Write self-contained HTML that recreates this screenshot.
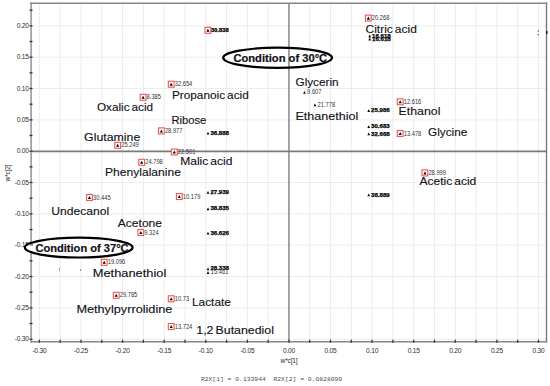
<!DOCTYPE html>
<html><head><meta charset="utf-8"><style>
html,body{margin:0;padding:0;background:#fff;width:550px;height:386px;overflow:hidden}
svg{display:block}
text{font-family:"Liberation Sans",sans-serif}
.g{stroke:#ececec;stroke-width:1}
.z{stroke-width:1.8}
.f{fill:none;stroke-width:1.6}
.t{stroke:#333;stroke-width:1.3}
.ax{font-size:6.6px;fill:#2a2a2a;letter-spacing:-0.2px}
.mono{font-family:"Liberation Mono",monospace;font-size:6.1px;fill:#505050}
.bx{fill:#fff;stroke:#f25555;stroke-width:1.1}
.tr{fill:#000}
.n{font-size:6.5px;fill:#333}
.nb{font-size:5.6px;fill:#000;stroke:#000;stroke-width:0.25px;font-weight:bold}
.lb{font-size:10.9px;word-spacing:-1.2px;fill:#111118;stroke:#111118;stroke-width:0.12px}
.lbb{font-size:11.2px;fill:#101018;stroke:#101018;stroke-width:0.2px;font-weight:bold}
.el{stroke:#000;stroke-width:2.2}
</style></head><body>
<svg width="550" height="386" viewBox="0 0 550 386">
<line x1="39.4" y1="3.2" x2="39.4" y2="341.7" class="g"/>
<line x1="60.2" y1="3.2" x2="60.2" y2="341.7" class="g"/>
<line x1="81.0" y1="3.2" x2="81.0" y2="341.7" class="g"/>
<line x1="101.8" y1="3.2" x2="101.8" y2="341.7" class="g"/>
<line x1="122.6" y1="3.2" x2="122.6" y2="341.7" class="g"/>
<line x1="143.4" y1="3.2" x2="143.4" y2="341.7" class="g"/>
<line x1="164.2" y1="3.2" x2="164.2" y2="341.7" class="g"/>
<line x1="185.0" y1="3.2" x2="185.0" y2="341.7" class="g"/>
<line x1="205.8" y1="3.2" x2="205.8" y2="341.7" class="g"/>
<line x1="226.6" y1="3.2" x2="226.6" y2="341.7" class="g"/>
<line x1="247.4" y1="3.2" x2="247.4" y2="341.7" class="g"/>
<line x1="268.2" y1="3.2" x2="268.2" y2="341.7" class="g"/>
<line x1="309.7" y1="3.2" x2="309.7" y2="341.7" class="g"/>
<line x1="330.5" y1="3.2" x2="330.5" y2="341.7" class="g"/>
<line x1="351.3" y1="3.2" x2="351.3" y2="341.7" class="g"/>
<line x1="372.1" y1="3.2" x2="372.1" y2="341.7" class="g"/>
<line x1="392.9" y1="3.2" x2="392.9" y2="341.7" class="g"/>
<line x1="413.7" y1="3.2" x2="413.7" y2="341.7" class="g"/>
<line x1="434.5" y1="3.2" x2="434.5" y2="341.7" class="g"/>
<line x1="455.3" y1="3.2" x2="455.3" y2="341.7" class="g"/>
<line x1="476.1" y1="3.2" x2="476.1" y2="341.7" class="g"/>
<line x1="496.9" y1="3.2" x2="496.9" y2="341.7" class="g"/>
<line x1="517.7" y1="3.2" x2="517.7" y2="341.7" class="g"/>
<line x1="538.5" y1="3.2" x2="538.5" y2="341.7" class="g"/>
<line x1="31.1" y1="25.9" x2="546.5" y2="25.9" class="g"/>
<line x1="31.1" y1="57.2" x2="546.5" y2="57.2" class="g"/>
<line x1="31.1" y1="88.5" x2="546.5" y2="88.5" class="g"/>
<line x1="31.1" y1="119.9" x2="546.5" y2="119.9" class="g"/>
<line x1="31.1" y1="182.5" x2="546.5" y2="182.5" class="g"/>
<line x1="31.1" y1="213.9" x2="546.5" y2="213.9" class="g"/>
<line x1="31.1" y1="245.2" x2="546.5" y2="245.2" class="g"/>
<line x1="31.1" y1="276.5" x2="546.5" y2="276.5" class="g"/>
<line x1="31.1" y1="307.9" x2="546.5" y2="307.9" class="g"/>
<line x1="31.1" y1="339.2" x2="546.5" y2="339.2" class="g"/>
<ellipse cx="277.6" cy="57.8" rx="54.4" ry="10.1" fill="#fff"/>
<line x1="288.95" y1="3.2" x2="288.95" y2="341.7" class="z" stroke="#9a9a9a"/>
<line x1="31.1" y1="151.30" x2="546.5" y2="151.30" class="z" stroke="#7a7a7a"/>
<path d="M31.1 2.4000000000000004V342.5" class="f" stroke="#989898"/>
<path d="M546.5 2.4000000000000004V342.5" class="f" stroke="#7a7a7a" style="stroke-width:1.4px"/>
<path d="M30.3 3.2H547.3M30.3 341.7H547.3" class="f" stroke="#868686"/>
<line x1="29.5" y1="10.2" x2="32.5" y2="10.2" class="t"/>
<line x1="29.5" y1="25.9" x2="32.5" y2="25.9" class="t"/>
<line x1="29.5" y1="41.5" x2="32.5" y2="41.5" class="t"/>
<line x1="29.5" y1="57.2" x2="32.5" y2="57.2" class="t"/>
<line x1="29.5" y1="72.9" x2="32.5" y2="72.9" class="t"/>
<line x1="29.5" y1="88.5" x2="32.5" y2="88.5" class="t"/>
<line x1="29.5" y1="104.2" x2="32.5" y2="104.2" class="t"/>
<line x1="29.5" y1="119.9" x2="32.5" y2="119.9" class="t"/>
<line x1="29.5" y1="135.5" x2="32.5" y2="135.5" class="t"/>
<line x1="29.5" y1="151.2" x2="32.5" y2="151.2" class="t"/>
<line x1="29.5" y1="166.9" x2="32.5" y2="166.9" class="t"/>
<line x1="29.5" y1="182.5" x2="32.5" y2="182.5" class="t"/>
<line x1="29.5" y1="198.2" x2="32.5" y2="198.2" class="t"/>
<line x1="29.5" y1="213.9" x2="32.5" y2="213.9" class="t"/>
<line x1="29.5" y1="229.5" x2="32.5" y2="229.5" class="t"/>
<line x1="29.5" y1="245.2" x2="32.5" y2="245.2" class="t"/>
<line x1="29.5" y1="260.9" x2="32.5" y2="260.9" class="t"/>
<line x1="29.5" y1="276.5" x2="32.5" y2="276.5" class="t"/>
<line x1="29.5" y1="292.2" x2="32.5" y2="292.2" class="t"/>
<line x1="29.5" y1="307.9" x2="32.5" y2="307.9" class="t"/>
<line x1="29.5" y1="323.5" x2="32.5" y2="323.5" class="t"/>
<line x1="29.5" y1="339.2" x2="32.5" y2="339.2" class="t"/>
<line x1="39.4" y1="339.7" x2="39.4" y2="342.7" class="t"/>
<line x1="60.2" y1="339.7" x2="60.2" y2="342.7" class="t"/>
<line x1="81.0" y1="339.7" x2="81.0" y2="342.7" class="t"/>
<line x1="101.8" y1="339.7" x2="101.8" y2="342.7" class="t"/>
<line x1="122.6" y1="339.7" x2="122.6" y2="342.7" class="t"/>
<line x1="143.4" y1="339.7" x2="143.4" y2="342.7" class="t"/>
<line x1="164.2" y1="339.7" x2="164.2" y2="342.7" class="t"/>
<line x1="185.0" y1="339.7" x2="185.0" y2="342.7" class="t"/>
<line x1="205.8" y1="339.7" x2="205.8" y2="342.7" class="t"/>
<line x1="226.6" y1="339.7" x2="226.6" y2="342.7" class="t"/>
<line x1="247.4" y1="339.7" x2="247.4" y2="342.7" class="t"/>
<line x1="268.2" y1="339.7" x2="268.2" y2="342.7" class="t"/>
<line x1="289.0" y1="339.7" x2="289.0" y2="342.7" class="t"/>
<line x1="309.7" y1="339.7" x2="309.7" y2="342.7" class="t"/>
<line x1="330.5" y1="339.7" x2="330.5" y2="342.7" class="t"/>
<line x1="351.3" y1="339.7" x2="351.3" y2="342.7" class="t"/>
<line x1="372.1" y1="339.7" x2="372.1" y2="342.7" class="t"/>
<line x1="392.9" y1="339.7" x2="392.9" y2="342.7" class="t"/>
<line x1="413.7" y1="339.7" x2="413.7" y2="342.7" class="t"/>
<line x1="434.5" y1="339.7" x2="434.5" y2="342.7" class="t"/>
<line x1="455.3" y1="339.7" x2="455.3" y2="342.7" class="t"/>
<line x1="476.1" y1="339.7" x2="476.1" y2="342.7" class="t"/>
<line x1="496.9" y1="339.7" x2="496.9" y2="342.7" class="t"/>
<line x1="517.7" y1="339.7" x2="517.7" y2="342.7" class="t"/>
<line x1="538.5" y1="339.7" x2="538.5" y2="342.7" class="t"/>
<text x="28.8" y="28.1" class="ax" text-anchor="end">0.20</text>
<text x="28.8" y="59.4" class="ax" text-anchor="end">0.15</text>
<text x="28.8" y="90.7" class="ax" text-anchor="end">0.10</text>
<text x="28.8" y="122.1" class="ax" text-anchor="end">0.05</text>
<text x="28.8" y="153.4" class="ax" text-anchor="end">0.00</text>
<text x="28.8" y="184.7" class="ax" text-anchor="end">-0.05</text>
<text x="28.8" y="216.1" class="ax" text-anchor="end">-0.10</text>
<text x="28.8" y="247.4" class="ax" text-anchor="end">-0.15</text>
<text x="28.8" y="278.7" class="ax" text-anchor="end">-0.20</text>
<text x="28.8" y="310.1" class="ax" text-anchor="end">-0.25</text>
<text x="28.8" y="341.4" class="ax" text-anchor="end">-0.30</text>
<text x="39.4" y="352.8" class="ax" text-anchor="middle">-0.30</text>
<text x="81.0" y="352.8" class="ax" text-anchor="middle">-0.25</text>
<text x="122.6" y="352.8" class="ax" text-anchor="middle">-0.20</text>
<text x="164.2" y="352.8" class="ax" text-anchor="middle">-0.15</text>
<text x="205.8" y="352.8" class="ax" text-anchor="middle">-0.10</text>
<text x="247.4" y="352.8" class="ax" text-anchor="middle">-0.05</text>
<text x="289.0" y="352.8" class="ax" text-anchor="middle">0.00</text>
<text x="330.5" y="352.8" class="ax" text-anchor="middle">0.05</text>
<text x="372.1" y="352.8" class="ax" text-anchor="middle">0.10</text>
<text x="413.7" y="352.8" class="ax" text-anchor="middle">0.15</text>
<text x="455.3" y="352.8" class="ax" text-anchor="middle">0.20</text>
<text x="496.9" y="352.8" class="ax" text-anchor="middle">0.25</text>
<text x="538.5" y="352.8" class="ax" text-anchor="middle">0.30</text>
<text x="289" y="362.5" class="ax" text-anchor="middle">w*c[1]</text>
<text transform="translate(10.3,173) rotate(-90)" class="ax" text-anchor="middle">w*c[2]</text>
<text x="200.9" y="380.5" class="mono" xml:space="preserve" textLength="141.3" lengthAdjust="spacingAndGlyphs">R2X[1] = 0.133944  R2X[2] = 0.0828099</text>
<rect x="205.0" y="27.3" width="5.8" height="6" class="bx"/>
<path d="M206.35 31.85L207.90 28.80L209.45 31.85Z" class="tr"/>
<text x="211.0" y="32.3" class="nb" textLength="17.8" lengthAdjust="spacingAndGlyphs">30.838</text>
<rect x="168.3" y="81.2" width="5.8" height="6" class="bx"/>
<path d="M169.65 85.75L171.20 82.70L172.75 85.75Z" class="tr"/>
<text x="174.7" y="86.3" class="n" textLength="17.6" lengthAdjust="spacingAndGlyphs">32.654</text>
<rect x="140.2" y="94.3" width="5.8" height="6" class="bx"/>
<path d="M141.55 98.85L143.10 95.80L144.65 98.85Z" class="tr"/>
<text x="146.6" y="99.4" class="n" textLength="14.4" lengthAdjust="spacingAndGlyphs">8.385</text>
<rect x="158.5" y="127.9" width="5.8" height="6" class="bx"/>
<path d="M159.85 132.45L161.40 129.40L162.95 132.45Z" class="tr"/>
<text x="164.9" y="133.0" class="n" textLength="17.6" lengthAdjust="spacingAndGlyphs">28.977</text>
<rect x="114.8" y="142.3" width="5.8" height="6" class="bx"/>
<path d="M116.15 146.85L117.70 143.80L119.25 146.85Z" class="tr"/>
<text x="121.2" y="147.4" class="n" textLength="17.6" lengthAdjust="spacingAndGlyphs">25.249</text>
<rect x="171.4" y="149.0" width="5.8" height="6" class="bx"/>
<path d="M172.75 153.55L174.30 150.50L175.85 153.55Z" class="tr"/>
<text x="177.8" y="154.1" class="n" textLength="17.6" lengthAdjust="spacingAndGlyphs">22.501</text>
<rect x="138.8" y="159.3" width="5.8" height="6" class="bx"/>
<path d="M140.15 163.85L141.70 160.80L143.25 163.85Z" class="tr"/>
<text x="145.2" y="164.4" class="n" textLength="17.6" lengthAdjust="spacingAndGlyphs">24.798</text>
<rect x="176.4" y="193.5" width="5.8" height="6" class="bx"/>
<path d="M177.75 198.05L179.30 195.00L180.85 198.05Z" class="tr"/>
<text x="182.8" y="198.6" class="n" textLength="17.6" lengthAdjust="spacingAndGlyphs">10.179</text>
<rect x="86.6" y="194.5" width="5.8" height="6" class="bx"/>
<path d="M87.95 199.05L89.50 196.00L91.05 199.05Z" class="tr"/>
<text x="93.0" y="199.6" class="n" textLength="17.6" lengthAdjust="spacingAndGlyphs">30.445</text>
<rect x="137.9" y="229.5" width="5.8" height="6" class="bx"/>
<path d="M139.25 234.05L140.80 231.00L142.35 234.05Z" class="tr"/>
<text x="144.3" y="234.6" class="n" textLength="14.4" lengthAdjust="spacingAndGlyphs">9.324</text>
<rect x="101.3" y="259.3" width="5.8" height="6" class="bx"/>
<path d="M102.65 263.85L104.20 260.80L105.75 263.85Z" class="tr"/>
<text x="107.7" y="264.4" class="n" textLength="17.6" lengthAdjust="spacingAndGlyphs">19.096</text>
<rect x="113.3" y="292.3" width="5.8" height="6" class="bx"/>
<path d="M114.65 296.85L116.20 293.80L117.75 296.85Z" class="tr"/>
<text x="119.7" y="297.4" class="n" textLength="17.6" lengthAdjust="spacingAndGlyphs">29.785</text>
<rect x="168.3" y="295.8" width="5.8" height="6" class="bx"/>
<path d="M169.65 300.35L171.20 297.30L172.75 300.35Z" class="tr"/>
<text x="174.7" y="300.9" class="n" textLength="14.4" lengthAdjust="spacingAndGlyphs">10.73</text>
<rect x="168.3" y="323.5" width="5.8" height="6" class="bx"/>
<path d="M169.65 328.05L171.20 325.00L172.75 328.05Z" class="tr"/>
<text x="174.7" y="328.6" class="n" textLength="17.6" lengthAdjust="spacingAndGlyphs">13.724</text>
<rect x="365.4" y="15.1" width="5.8" height="6" class="bx"/>
<path d="M366.75 19.65L368.30 16.60L369.85 19.65Z" class="tr"/>
<text x="371.8" y="20.2" class="n" textLength="17.6" lengthAdjust="spacingAndGlyphs">20.268</text>
<rect x="397.3" y="98.8" width="5.8" height="6" class="bx"/>
<path d="M398.65 103.35L400.20 100.30L401.75 103.35Z" class="tr"/>
<text x="403.7" y="103.9" class="n" textLength="17.6" lengthAdjust="spacingAndGlyphs">12.616</text>
<rect x="397.3" y="130.5" width="5.8" height="6" class="bx"/>
<path d="M398.65 135.05L400.20 132.00L401.75 135.05Z" class="tr"/>
<text x="403.7" y="135.6" class="n" textLength="17.6" lengthAdjust="spacingAndGlyphs">13.478</text>
<rect x="422.0" y="169.9" width="5.8" height="6" class="bx"/>
<path d="M423.35 174.45L424.90 171.40L426.45 174.45Z" class="tr"/>
<text x="428.4" y="175.0" class="n" textLength="17.6" lengthAdjust="spacingAndGlyphs">28.999</text>
<path d="M206.65 134.50L208.00 131.70L209.35 134.50Z" class="tr"/>
<text x="210.4" y="134.7" class="nb" textLength="18.6" lengthAdjust="spacingAndGlyphs">36.888</text>
<path d="M206.65 193.80L208.00 191.00L209.35 193.80Z" class="tr"/>
<text x="210.4" y="194.0" class="nb" textLength="18.6" lengthAdjust="spacingAndGlyphs">27.939</text>
<path d="M206.65 210.20L208.00 207.40L209.35 210.20Z" class="tr"/>
<text x="210.4" y="210.4" class="nb" textLength="18.6" lengthAdjust="spacingAndGlyphs">38.835</text>
<path d="M206.65 234.60L208.00 231.80L209.35 234.60Z" class="tr"/>
<text x="210.4" y="234.8" class="nb" textLength="18.6" lengthAdjust="spacingAndGlyphs">36.626</text>
<path d="M206.65 270.20L208.00 267.40L209.35 270.20Z" class="tr"/>
<text x="210.4" y="270.4" class="nb" textLength="18.6" lengthAdjust="spacingAndGlyphs">28.338</text>
<path d="M303.15 93.70L304.50 90.90L305.85 93.70Z" class="tr"/>
<text x="307.1" y="94.0" class="n" textLength="14.4" lengthAdjust="spacingAndGlyphs">9.607</text>
<path d="M313.55 106.30L314.90 103.50L316.25 106.30Z" class="tr"/>
<text x="317.5" y="106.6" class="n" textLength="17.6" lengthAdjust="spacingAndGlyphs">21.778</text>
<path d="M367.35 112.00L368.70 109.20L370.05 112.00Z" class="tr"/>
<text x="371.1" y="112.2" class="nb" textLength="18.6" lengthAdjust="spacingAndGlyphs">25.986</text>
<path d="M367.35 128.00L368.70 125.20L370.05 128.00Z" class="tr"/>
<text x="371.1" y="128.2" class="nb" textLength="18.6" lengthAdjust="spacingAndGlyphs">30.683</text>
<path d="M367.35 135.30L368.70 132.50L370.05 135.30Z" class="tr"/>
<text x="371.1" y="135.5" class="nb" textLength="18.6" lengthAdjust="spacingAndGlyphs">32.668</text>
<path d="M367.35 196.30L368.70 193.50L370.05 196.30Z" class="tr"/>
<text x="371.1" y="196.5" class="nb" textLength="18.6" lengthAdjust="spacingAndGlyphs">38.889</text>
<path d="M368.35 40.40L369.70 37.60L371.05 40.40Z" class="tr"/>
<text x="372.1" y="40.6" class="nb" textLength="18.6" lengthAdjust="spacingAndGlyphs">16.618</text>
<path d="M368.35 37.40L369.70 34.60L371.05 37.40Z" class="tr"/>
<text x="372.1" y="37.6" class="nb" textLength="18.6" lengthAdjust="spacingAndGlyphs">16.618</text>
<text x="210.8" y="273.9" class="n" textLength="17.6" lengthAdjust="spacingAndGlyphs">15.461</text>
<path d="M206.65 273.90L208.00 271.10L209.35 273.90Z" class="tr"/>
<rect x="537.6" y="30.3" width="1.3" height="1.4" fill="#555"/>
<rect x="537.6" y="34" width="1.3" height="1.2" fill="#555"/>
<rect x="546" y="31" width="1.6" height="3" fill="#222"/>
<rect x="59" y="267.6" width="0.9" height="3.6" fill="#999"/>
<rect x="80" y="269" width="0.9" height="2" fill="#888"/>
<text x="365.5" y="32.6" class="lb" textLength="51.3" lengthAdjust="spacingAndGlyphs">Citric acid</text>
<text x="171.9" y="98.8" class="lb" textLength="76.9" lengthAdjust="spacingAndGlyphs">Propanoic acid</text>
<text x="96.9" y="111.3" class="lb" textLength="56.2" lengthAdjust="spacingAndGlyphs">Oxalic acid</text>
<text x="171.4" y="123.6" class="lb" textLength="34.9" lengthAdjust="spacingAndGlyphs">Ribose</text>
<text x="84.1" y="140.5" class="lb" textLength="56.2" lengthAdjust="spacingAndGlyphs">Glutamine</text>
<text x="180.2" y="164.8" class="lb" textLength="52.2" lengthAdjust="spacingAndGlyphs">Malic acid</text>
<text x="105" y="176.3" class="lb" textLength="75.9" lengthAdjust="spacingAndGlyphs">Phenylalanine</text>
<text x="51.3" y="214.5" class="lb" textLength="57.8" lengthAdjust="spacingAndGlyphs">Undecanol</text>
<text x="117.8" y="226.8" class="lb" textLength="44.2" lengthAdjust="spacingAndGlyphs">Acetone</text>
<text x="92.7" y="276.9" class="lb" textLength="73.7" lengthAdjust="spacingAndGlyphs">Methanethiol</text>
<text x="76.4" y="313.0" class="lb" textLength="96.0" lengthAdjust="spacingAndGlyphs">Methylpyrrolidine</text>
<text x="192" y="305.8" class="lb" textLength="38.9" lengthAdjust="spacingAndGlyphs">Lactate</text>
<text x="196.3" y="334.4" class="lb" textLength="77.6" lengthAdjust="spacingAndGlyphs">1,2 Butanediol</text>
<text x="295.5" y="86.3" class="lb" textLength="43.1" lengthAdjust="spacingAndGlyphs">Glycerin</text>
<text x="295.5" y="119.8" class="lb" textLength="62.8" lengthAdjust="spacingAndGlyphs">Ethanethiol</text>
<text x="398.5" y="115.3" class="lb" textLength="41.9" lengthAdjust="spacingAndGlyphs">Ethanol</text>
<text x="428.1" y="136.3" class="lb" textLength="39.2" lengthAdjust="spacingAndGlyphs">Glycine</text>
<text x="419.5" y="185.4" class="lb" textLength="56.8" lengthAdjust="spacingAndGlyphs">Acetic acid</text>
<ellipse cx="277.6" cy="57.8" rx="54.4" ry="10.1" class="el" fill="none"/>
<text x="233.4" y="61.7" class="lbb" textLength="93.8" lengthAdjust="spacingAndGlyphs">Condition of 30°C</text>
<ellipse cx="78.7" cy="247.6" rx="53.9" ry="9.9" class="el" fill="#fff"/>
<path d="M30 245h3" stroke="#666" stroke-width="1.3"/>
<text x="35.4" y="251.6" class="lbb" textLength="93.2" lengthAdjust="spacingAndGlyphs">Condition of 37°C</text>
</svg>
</body></html>
